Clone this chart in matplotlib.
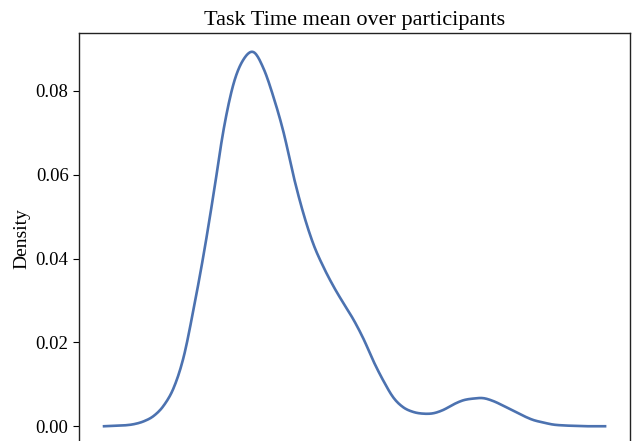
import numpy as np
import matplotlib
matplotlib.use("Agg")
import matplotlib.pyplot as plt

plt.rcParams['font.family'] = ['Liberation Serif', 'DejaVu Serif']

# Mean task time (s) over participants
task_time = [-2.00, -1.20, -0.41, 0.39, 1.19, 1.98, 2.78, 3.58, 4.37, 5.17,
             5.97, 6.76, 7.56, 8.36, 9.16, 9.95, 10.75, 11.55, 12.34, 13.14,
             13.94, 14.73, 15.53, 16.33, 17.12, 17.92, 18.72, 19.51, 20.31, 21.11,
             21.90, 22.70, 23.50, 24.29, 25.09, 25.89, 26.69, 27.48, 28.28, 29.08,
             29.87, 30.67, 31.47, 32.26, 33.06, 33.86, 34.65, 35.45, 36.25, 37.04,
             38.00]
density = [0.0000, 0.0001, 0.0002, 0.0005, 0.0012, 0.0025, 0.0050, 0.0093, 0.0167, 0.0283,
           0.0413, 0.0557, 0.0710, 0.0819, 0.0876, 0.0892, 0.0852, 0.0783, 0.0700, 0.0595,
           0.0505, 0.0433, 0.0379, 0.0333, 0.0293, 0.0254, 0.0208, 0.0155, 0.0108, 0.0068,
           0.0045, 0.0034, 0.0030, 0.0031, 0.0039, 0.0052, 0.0062, 0.0066, 0.0067, 0.0060,
           0.0049, 0.0037, 0.0025, 0.0015, 0.0009, 0.0004, 0.0002, 0.0001, 0.0000, 0.0000,
           0.0000]


def smooth_path(xs, ys, steps=12):
    """Catmull-Rom rendering through the read points (drawing only)."""
    p = np.column_stack([xs, ys]).astype(float)
    p = np.vstack([p[0], p, p[-1]])
    out = []
    t = np.linspace(0, 1, steps, endpoint=False)[:, None]
    for i in range(1, len(p) - 2):
        p0, p1, p2, p3 = p[i - 1], p[i], p[i + 1], p[i + 2]
        seg = 0.5 * ((2 * p1) + (-p0 + p2) * t + (2 * p0 - 5 * p1 + 4 * p2 - p3) * t ** 2
                     + (-p0 + 3 * p1 - 3 * p2 + p3) * t ** 3)
        out.append(seg)
    out.append(p[-2][None, :])
    out = np.vstack(out)
    return out[:, 0], np.clip(out[:, 1], 0, None)


fig = plt.figure(figsize=(6.32, 4.41), dpi=100)
ax = fig.add_axes([0.125, -0.009, 0.872, 0.934])
sx, sy = smooth_path(task_time, density)
ax.plot(sx, sy, color='#4C72B0', linewidth=1.9)
ax.set_title('Task Time mean over participants', fontsize=16)
ax.set_ylabel('Density', fontsize=14)
ax.set_yticks([0.0, 0.02, 0.04, 0.06, 0.08])
ax.set_yticklabels(['0.00', '0.02', '0.04', '0.06', '0.08'])
ax.tick_params(axis='both', labelsize=13.5, direction='out', length=4)
ax.tick_params(axis='x', labelbottom=False)
for s in ax.spines.values():
    s.set_color('#222222')
    s.set_linewidth(1.0)
fig.savefig('out.png', dpi=100)
